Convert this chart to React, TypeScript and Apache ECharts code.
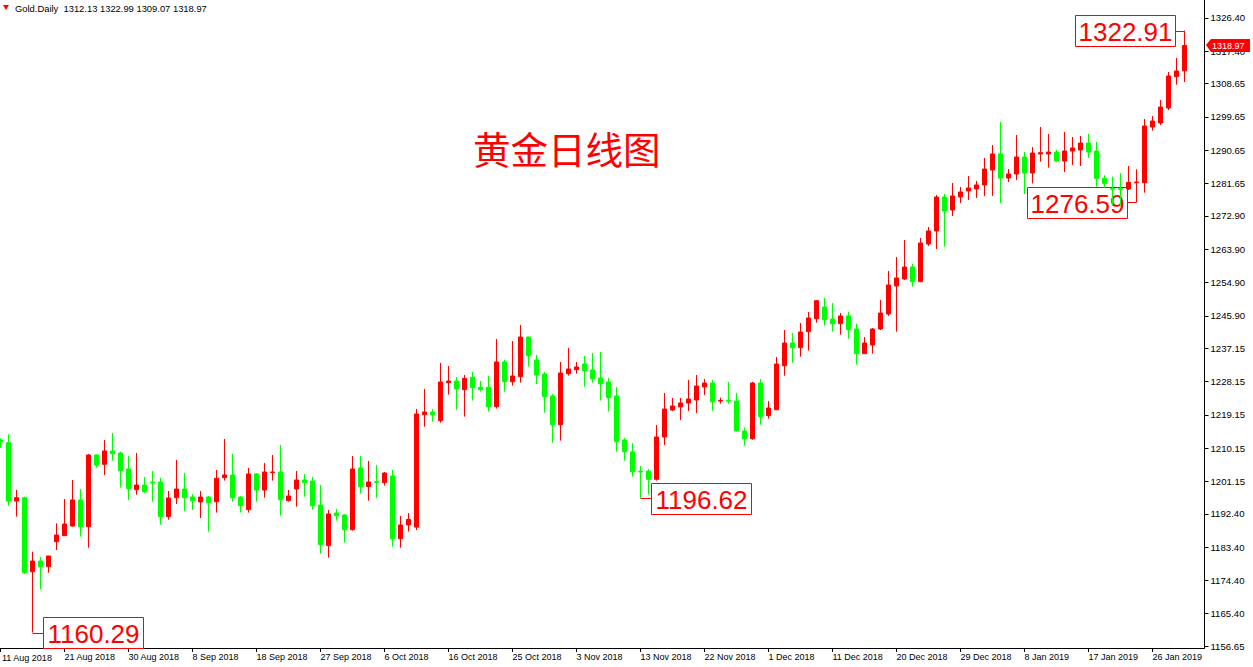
import React, { useEffect, useRef } from 'react';
import * as echarts from 'echarts';

const symbolName = 'Gold.Daily';
const headerValues = ['1312.13', '1322.99', '1309.07', '1318.97'];
const chartTitle = '黄金日线图';

const dateLabels = [
  '11 Aug 2018', '21 Aug 2018', '30 Aug 2018', '8 Sep 2018', '18 Sep 2018', '27 Sep 2018',
  '6 Oct 2018', '16 Oct 2018', '25 Oct 2018', '3 Nov 2018', '13 Nov 2018', '22 Nov 2018',
  '1 Dec 2018', '11 Dec 2018', '20 Dec 2018', '29 Dec 2018', '8 Jan 2019', '17 Jan 2019', '26 Jan 2019',
];

const priceTicks = [
  1156.65, 1165.40, 1174.40, 1183.40, 1192.40, 1201.15, 1210.15, 1219.15, 1228.15, 1237.15,
  1245.90, 1254.90, 1263.90, 1272.90, 1281.65, 1290.65, 1299.65, 1308.65, 1317.40, 1326.40,
];

const opens = [
  1212.35, 1211.63, 1195.86, 1196.76, 1176.76, 1179.64, 1178.11, 1184.87, 1186.49, 1189.1,
  1196.13, 1188.92, 1208.29, 1205.77, 1209.37, 1208.83, 1204.51, 1198.92, 1200.18, 1200.99,
  1200.99, 1191.63, 1196.76, 1199.1, 1196.94, 1195.59, 1196.94, 1195.68, 1202.17, 1202.89,
  1196.94, 1193.52, 1203.16, 1198.83, 1203.52, 1203.7, 1195.95, 1199.1, 1201.54, 1201.27,
  1194.78, 1183.79, 1192.62, 1192.08, 1188.12, 1204.78, 1199.74, 1201.09, 1200.82, 1202.62,
  1185.68, 1189.4, 1188.8, 1219.19, 1219.92, 1217.57, 1227.84, 1228.29, 1225.95, 1229.28,
  1226.58, 1226.58, 1221.36, 1233.43, 1228.11, 1229.46, 1240.19, 1233.97, 1230.19, 1224.24,
  1216.49, 1230.28, 1231.36, 1232.89, 1231.27, 1229.1, 1228.02, 1224.24, 1212.35, 1209.11,
  1203.88, 1203.97, 1201.72, 1213.16, 1220.46, 1221.27, 1222.35, 1223.16, 1226.67, 1227.75,
  1222.88, 1223.06, 1222.88, 1214.77, 1212.7, 1227.75, 1218.92, 1220.54, 1232.43, 1238.56,
  1237.3, 1241.63, 1245.14, 1248.29, 1245.05, 1243.79, 1245.86, 1242.35, 1235.68, 1238.02,
  1242.35, 1246.4, 1253.97, 1255.86, 1259.11, 1255.14, 1265.32, 1268.84, 1278.03, 1274.51,
  1278.03, 1279.65, 1280.19, 1281.27, 1285.32, 1289.65, 1283.15, 1284.23, 1288.83, 1284.5,
  1289.64, 1289.64, 1290.18, 1287.75, 1290.45, 1290.72, 1292.61, 1290.45, 1283.06, 1280.27,
  1280.27, 1280.18, 1281.9, 1281.89, 1296.94, 1298.02, 1302.07, 1310.54, 1312.13,
];

const closes = [
  1211.9, 1195.86, 1196.76, 1176.49, 1179.64, 1178.11, 1180.99, 1186.67, 1189.64, 1196.13,
  1188.92, 1208.29, 1205.59, 1209.37, 1208.65, 1204.06, 1199.19, 1200.18, 1198.38, 1200.81,
  1191.63, 1196.67, 1199.1, 1196.76, 1195.95, 1196.94, 1195.41, 1201.99, 1202.89, 1196.76,
  1194.6, 1203.16, 1198.83, 1203.7, 1203.7, 1196.22, 1197.21, 1201.54, 1200.82, 1194.6,
  1184.06, 1192.35, 1191.9, 1188.12, 1204.51, 1199.74, 1201.0, 1200.91, 1203.43, 1185.68,
  1189.38, 1190.9, 1219.37, 1219.92, 1219.19, 1228.02, 1228.29, 1226.13, 1229.01, 1226.49,
  1225.95, 1221.36, 1233.43, 1228.11, 1229.64, 1240.19, 1235.14, 1229.92, 1224.06, 1216.49,
  1230.46, 1231.54, 1232.08, 1231.09, 1228.92, 1227.57, 1223.79, 1211.9, 1209.2, 1203.79,
  1203.7, 1201.72, 1213.16, 1220.73, 1221.54, 1222.35, 1223.43, 1226.94, 1227.75, 1222.7,
  1223.06, 1222.88, 1214.86, 1212.7, 1227.75, 1218.65, 1220.99, 1232.88, 1238.56, 1237.3,
  1241.53, 1245.32, 1250.0, 1244.87, 1243.79, 1245.86, 1242.17, 1235.68, 1238.56, 1242.35,
  1246.67, 1254.24, 1256.13, 1259.1, 1255.14, 1265.59, 1268.84, 1278.03, 1274.24, 1278.3,
  1279.38, 1280.46, 1281.27, 1285.59, 1289.65, 1283.16, 1284.23, 1288.83, 1284.5, 1289.91,
  1290.0, 1290.18, 1287.75, 1290.45, 1291.26, 1292.61, 1290.18, 1283.06, 1281.7, 1280.09,
  1280.09, 1281.98, 1282.07, 1297.21, 1298.56, 1302.34, 1310.72, 1312.07, 1318.97,
];

const lows = [
  1210.3, 1194.6, 1191.63, 1176.13, 1160.29, 1171.99, 1176.49, 1182.62, 1186.4, 1188.9,
  1186.22, 1183.25, 1204.87, 1202.89, 1206.76, 1199.46, 1196.13, 1197.57, 1198.02, 1195.68,
  1189.46, 1190.81, 1195.05, 1193.16, 1193.43, 1191.26, 1187.57, 1192.71, 1201.36, 1195.68,
  1192.71, 1192.71, 1195.68, 1196.76, 1201.36, 1191.9, 1195.68, 1194.33, 1197.03, 1193.52,
  1181.63, 1180.55, 1190.55, 1184.6, 1187.85, 1197.85, 1195.95, 1196.76, 1200.01, 1183.52,
  1183.25, 1187.6, 1188.0, 1215.95, 1217.3, 1217.03, 1224.6, 1220.55, 1218.65, 1222.98,
  1225.41, 1220.01, 1220.82, 1225.41, 1227.03, 1227.84, 1232.17, 1227.48, 1219.73, 1211.63,
  1212.17, 1229.74, 1230.28, 1226.76, 1227.84, 1222.98, 1220.01, 1209.2, 1206.76, 1202.44,
  1196.62, 1197.66, 1201.36, 1211.0, 1220.19, 1217.75, 1220.19, 1219.65, 1224.51, 1220.27,
  1222.16, 1222.16, 1214.59, 1210.81, 1212.43, 1216.49, 1218.11, 1220.4, 1229.73, 1233.24,
  1234.86, 1236.49, 1244.06, 1243.25, 1241.63, 1240.81, 1239.73, 1232.71, 1235.6, 1235.68,
  1242.08, 1245.86, 1241.63, 1255.59, 1253.79, 1255.0, 1264.78, 1263.97, 1264.6, 1272.89,
  1276.4, 1277.22, 1277.76, 1278.3, 1278.3, 1276.4, 1282.07, 1282.61, 1278.83, 1281.7,
  1287.57, 1285.95, 1287.48, 1284.77, 1286.67, 1286.4, 1288.56, 1280.81, 1280.5, 1275.6,
  1275.6, 1279.91, 1276.59, 1279.19, 1295.95, 1297.48, 1301.53, 1308.38, 1309.07,
];

const highs = [
  1212.8, 1213.88, 1198.83, 1197.03, 1182.17, 1180.72, 1181.0, 1189.82, 1196.4, 1201.54,
  1199.1, 1208.56, 1208.4, 1212.35, 1214.24, 1209.19, 1208.02, 1208.83, 1202.35, 1203.97,
  1202.08, 1198.56, 1206.94, 1203.43, 1197.66, 1198.56, 1197.21, 1204.24, 1212.62, 1208.56,
  1197.21, 1204.78, 1203.43, 1206.13, 1208.29, 1211.0, 1198.83, 1203.97, 1203.16, 1202.35,
  1200.19, 1193.43, 1193.7, 1192.35, 1208.03, 1208.03, 1206.67, 1205.59, 1203.7, 1204.24,
  1191.81, 1192.6, 1220.73, 1226.13, 1220.73, 1233.16, 1232.35, 1229.37, 1229.91, 1230.73,
  1228.29, 1229.65, 1239.64, 1233.97, 1239.1, 1243.43, 1240.19, 1235.32, 1230.73, 1224.78,
  1233.43, 1237.21, 1233.43, 1235.05, 1235.86, 1236.13, 1229.11, 1226.67, 1212.89, 1211.54,
  1205.32, 1204.51, 1216.4, 1225.05, 1223.7, 1223.7, 1228.56, 1229.92, 1228.83, 1228.56,
  1223.78, 1228.02, 1225.05, 1215.68, 1228.02, 1228.83, 1222.88, 1234.77, 1242.07, 1241.26,
  1243.96, 1246.94, 1250.18, 1250.72, 1249.37, 1246.67, 1246.94, 1243.7, 1240.18, 1242.62,
  1250.18, 1258.02, 1261.81, 1266.4, 1259.92, 1266.94, 1269.92, 1278.57, 1278.84, 1281.81,
  1280.73, 1283.7, 1282.35, 1288.57, 1292.08, 1298.3, 1285.59, 1294.77, 1290.18, 1291.53,
  1296.94, 1295.05, 1290.72, 1295.59, 1294.23, 1294.5, 1295.05, 1292.88, 1283.9, 1283.51,
  1284.41, 1286.4, 1285.5, 1299.1, 1299.91, 1304.24, 1311.8, 1315.59, 1322.99,
];

const noteBars = [4, 80, 142, 148];
const notePrices = [1160.29, 1196.62, 1276.59, 1322.91];
const noteSides = [1, 1, -1, -1];

const lastBar = 148;
const lastPrice = 1318.97;

const BAR_SLOTS = 151;
const UP = '#ff0000';
const DOWN = '#00ff00';
const SHIFT = 4; // the chart div starts 4px left of the page so the first bar is cut like the reference
const LABEL_FONT = 'Liberation Sans, Arial, sans-serif';

export default function App() {
  const ref = useRef<HTMLDivElement>(null);

  useEffect(() => {
    if (!ref.current) return;
    const chart = echarts.init(ref.current, undefined, { renderer: 'svg' });
    const categories = Array.from({ length: BAR_SLOTS }, (_, i) => String(i));
    const candles = opens.map((o, i) => [o, closes[i], lows[i], highs[i]]);
    const notes = noteBars.map((b, i) => [b, notePrices[i], noteSides[i]]);
    const showEvery8 = (index: number) => index % 8 === 0;

    chart.setOption({
      animation: false,
      backgroundColor: '#ffffff',
      grid: { left: 0.5, top: 0, width: BAR_SLOTS * 8, bottom: 19 },
      xAxis: {
        type: 'category',
        data: categories,
        boundaryGap: true,
        axisLine: { show: true, lineStyle: { color: '#000', width: 1 } },
        axisTick: { show: true, interval: showEvery8, alignWithLabel: true, length: 4, lineStyle: { color: '#000' } },
        axisLabel: {
          interval: showEvery8,
          // the first date is drawn as a separate text, nudged inside the page as MT4 does
          formatter: (_v: string, index: number) => (index > 0 && index % 8 === 0 && dateLabels[index / 8]) || '',
          align: 'left',
          margin: 4,
          fontSize: 9,
          color: '#000',
          fontFamily: LABEL_FONT,
        },
        splitLine: { show: false },
      },
      yAxis: {
        type: 'value',
        position: 'right',
        scale: true,
        min: 1156.13,
        max: 1331.26,
        axisLine: { show: true, lineStyle: { color: '#000', width: 1 } },
        axisTick: { show: true, length: 4, customValues: priceTicks, lineStyle: { color: '#000' } },
        axisLabel: {
          customValues: priceTicks,
          formatter: (v: number) => v.toFixed(2),
          margin: 6,
          fontSize: 9.6,
          color: '#000',
          fontFamily: LABEL_FONT,
        },
        splitLine: { show: false },
      },
      graphic: [
        { type: 'polygon', shape: { points: [[3 + SHIFT, 5], [9 + SHIFT, 5], [6 + SHIFT, 10]] }, style: { fill: '#ff0000' } },
        {
          type: 'text', x: 15 + SHIFT, y: 8,
          style: {
            text: symbolName + '  ' + headerValues.join(' '),
            font: '9.4px "Liberation Sans", Arial, sans-serif', fill: '#000', verticalAlign: 'middle',
          },
        },
        {
          type: 'text', x: 2 + SHIFT, y: 653,
          style: {
            text: dateLabels[0],
            font: '9px "Liberation Sans", Arial, sans-serif', fill: '#000', verticalAlign: 'top',
          },
        },
        {
          type: 'text', x: 473 + SHIFT, y: 147,
          style: {
            text: chartTitle, font: '37.5px "Noto Sans CJK SC", sans-serif', fill: '#ff0000', verticalAlign: 'middle',
          },
        },
      ],
      series: [
        {
          type: 'custom',
          name: 'notes',
          data: notes,
          z: 1,
          clip: false,
          renderItem: (_params: any, api: any) => {
            const idx = api.value(0);
            const price = api.value(1);
            const side = api.value(2);
            const p = api.coord([idx, price]);
            const w = 100, h = 31, gap = 10;
            const bx = Math.round(side > 0 ? p[0] + gap : p[0] - gap - w) + 0.5;
            const by = Math.round(p[1] - h / 2) + 0.5;
            const edge = side > 0 ? bx : bx + w;
            const py = Math.round(p[1]) + 0.5;
            return {
              type: 'group',
              children: [
                { type: 'line', shape: { x1: p[0], y1: py, x2: edge, y2: py }, style: { stroke: '#ff0000', lineWidth: 1 } },
                { type: 'rect', shape: { x: bx, y: by, width: w, height: h }, style: { fill: '#ffffff', stroke: '#ff0000', lineWidth: 1 } },
                {
                  type: 'text',
                  style: {
                    text: Number(price).toFixed(2), x: bx + w / 2, y: by + h / 2 + 1,
                    align: 'center', verticalAlign: 'middle', fill: '#ff0000',
                    font: '26px "Liberation Sans", Arial, sans-serif',
                  },
                },
              ],
            };
          },
        },
        {
          type: 'candlestick',
          name: 'Gold.Daily',
          data: candles,
          z: 3,
          barWidth: 4,
          itemStyle: { color: UP, color0: DOWN, borderColor: UP, borderColor0: DOWN, borderWidth: 1 },
        },
        {
          type: 'custom',
          name: 'lastPrice',
          data: [[lastBar, lastPrice]],
          z: 5,
          clip: false,
          renderItem: (params: any, api: any) => {
            const p = api.coord([api.value(0), api.value(1)]);
            const cs = params.coordSys;
            const x0 = Math.round(cs.x + cs.width);
            const y = Math.round(p[1]);
            return {
              type: 'group',
              children: [
                { type: 'polygon', shape: { points: [[x0 + 1, y], [x0 + 6, y - 6], [x0 + 45, y - 6], [x0 + 45, y + 7], [x0 + 6, y + 7]] }, style: { fill: '#ff0000' } },
                {
                  type: 'text',
                  style: {
                    text: Number(api.value(1)).toFixed(2), x: x0 + 7, y: y + 0.5,
                    verticalAlign: 'middle', fill: '#ffffff', font: '9px "Liberation Sans", Arial, sans-serif',
                  },
                },
              ],
            };
          },
        },
      ],
    });
    return () => chart.dispose();
  }, []);

  return <div ref={ref} style={{ position: 'absolute', left: -SHIFT, top: 0, width: 1253 + SHIFT, height: 667 }} />;
}
